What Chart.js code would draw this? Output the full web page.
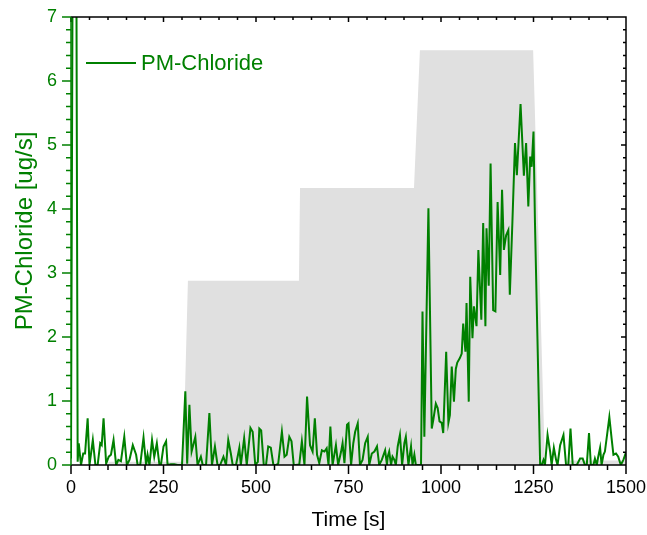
<!DOCTYPE html>
<html><head><meta charset="utf-8">
<script src="https://cdn.jsdelivr.net/npm/chart.js@4/dist/chart.umd.min.js"></script>
<style>html,body{margin:0;padding:0;background:#fff}#wrap{width:647px;height:535px;position:relative}</style>
</head><body><div id="wrap"><canvas id="c" width="647" height="535"></canvas></div>
<script>
const timeS = [0,5,14,18,21,27,33,38,45,50,59,66,72,79,83,88,95,102,108,115,122,128,135,144,151,158,167,176,180,187,196,203,207,212,219,225,232,239,243,250,257,261,270,279,288,300,309,314,320,326,336,342,351,356,365,374,381,389,396,403,412,419,425,432,437,446,455,459,468,475,485,491,498,505,509,514,521,527,533,540,547,554,560,570,577,583,590,596,602,608,617,624,631,638,646,653,659,665,671,678,685,691,696,701,707,716,722,730,734,739,746,750,757,763,768,775,781,788,795,802,806,813,820,827,833,840,849,854,856,860,865,869,874,878,883,889,895,901,905,912,919,923,928,932,941,946,950,955,966,975,979,986,991,996,1002,1006,1014,1020,1024,1029,1035,1040,1044,1051,1056,1060,1066,1069,1075,1079,1085,1089,1096,1101,1109,1114,1120,1123,1129,1134,1141,1147,1153,1160,1165,1170,1176,1182,1186,1193,1200,1205,1215,1224,1230,1236,1241,1245,1250,1254,1268,1272,1277,1281,1288,1295,1299,1305,1311,1315,1322,1331,1338,1344,1350,1356,1367,1376,1383,1389,1394,1400,1405,1412,1416,1421,1425,1430,1434,1439,1443,1455,1461,1466,1473,1479,1486,1493,1500];
const chloride = [0.1,9,9,0.05,0.34,0,0.18,0.18,0.73,0,0.39,0,0,0.34,0.31,0.73,0.02,0.13,0.16,0.39,0,0.08,0.06,0.44,0,0.08,0.31,0.16,0,0,0.43,0,0.16,0,0.39,0.13,0.34,0,0,0.29,0.37,0,0.01,0.01,0,0,1.15,0.02,0.94,0.21,0.44,0,0.13,0,0,0.81,0,0.29,0,0,0.13,0,0.39,0.18,0,0,0.27,0,0.42,0,0.58,0.52,0,0.05,0.57,0.54,0,0,0.29,0.27,0,0,0.02,0.52,0.13,0.16,0.44,0.37,0,0,0.01,0.37,0,1.07,0.31,0.21,0.73,0.16,0.03,0.23,0.21,0.26,0,0.6,0,0.31,0,0.21,0.34,0.03,0.63,0.65,0,0.34,0.52,0.65,0,0.08,0.34,0.44,0,0.18,0.21,0.29,0,0.08,0.23,0,0.13,0.21,0,0.13,0.08,0,0.29,0.47,0,0.34,0.44,0,0.29,0,0.16,0,0,0,2.4,0.44,4.01,0.57,0.7,0.96,0.89,0.68,0.66,0.5,1.77,0.66,0.78,1.54,0.99,1.5,1.6,1.67,1.74,2.21,1.77,2.53,0.99,2.94,1.98,2.48,2.17,3.36,2.27,3.78,2.17,3.7,2.8,4.71,2.42,2.4,4.11,2.97,4.3,3.36,3.59,3.67,2.66,3.8,5.03,4.53,5.64,4.52,5.03,4.04,4.82,4.66,5.21,3.78,0,0,0.08,0,0.47,0.21,0,0.27,0.08,0,0.31,0.47,0,0,0.57,0,0,0.1,0.1,0,0,0.5,0,0,0.1,0,0.13,0.27,0,0.16,0.21,0.75,0.42,0.16,0.18,0.13,0,0.08,0.2];
const profileTime = [0,100,101,303,316,616,619,927,943,1249,1281,1340,1341,1500];
const profileLevel = [0,0,0.05,0.05,2.88,2.88,4.33,4.33,6.48,6.48,0,0,0.07,0.07];
const xTickValues = [0,250,500,750,1000,1250,1500];
const yTickValues = [0,1,2,3,4,5,6,7];
const yTitle = 'PM-Chloride [ug/s]';

const GREEN = '#008000';
const FONT = 'Liberation Sans, Arial, sans-serif';

const greenPts = timeS.map((t,i)=>({x:t,y:chloride[i]}));
const grayPts = profileTime.map((t,i)=>({x:t,y:profileLevel[i]}));

const framePlugin = {
  id:'frame',
  afterDatasetsDraw(chart){
    const {ctx, chartArea:{left,right,top,bottom}, scales:{x,y}} = chart;
    ctx.save();
    ctx.lineWidth = 1.5;
    ctx.strokeStyle = '#000';
    ctx.beginPath();
    for (let v=0; v<=1500; v+=50){
      const px = x.getPixelForValue(v);
      const major = v % 250 === 0;
      ctx.moveTo(px,bottom); ctx.lineTo(px,bottom+(major?9:5));
      ctx.moveTo(px,top); ctx.lineTo(px,top+(major?5:3));
    }
    for (let k=0; k<=35; k++){
      const v = k*0.2; const py = y.getPixelForValue(v);
      const major = k % 5 === 0;
      ctx.moveTo(right,py); ctx.lineTo(right-(major?5:3),py);
    }
    ctx.moveTo(left,top); ctx.lineTo(right,top); ctx.lineTo(right,bottom); ctx.lineTo(left,bottom);
    ctx.stroke();
    ctx.strokeStyle = GREEN;
    ctx.beginPath();
    for (let k=0; k<=35; k++){
      const v = k*0.2; const py = y.getPixelForValue(v);
      const major = k % 5 === 0;
      ctx.moveTo(left,py); ctx.lineTo(left-(major?9:5),py);
    }
    ctx.moveTo(left,top); ctx.lineTo(left,bottom);
    ctx.stroke();
    // legend
    ctx.lineWidth = 2;
    ctx.beginPath(); ctx.moveTo(86,63); ctx.lineTo(136,63); ctx.stroke();
    ctx.fillStyle = GREEN;
    ctx.font = '22px ' + FONT;
    ctx.textBaseline = 'middle';
    ctx.textAlign = 'left';
    ctx.fillText(chart.data.datasets[0].label, 141, 64);
    // y axis title
    ctx.translate(25, 231);
    ctx.rotate(-Math.PI/2);
    ctx.textAlign = 'center';
    ctx.font = '24px ' + FONT;
    ctx.fillText(yTitle, 0, 0);
    ctx.restore();
  }
};

new Chart(document.getElementById('c'), {
  type:'line',
  data:{datasets:[
    {label:'PM-Chloride', data:greenPts, borderColor:GREEN, borderWidth:2, pointRadius:0, fill:false, tension:0},
    {label:'Profile', data:grayPts, borderWidth:0, borderColor:'rgba(0,0,0,0)', backgroundColor:'#e0e0e0', pointRadius:0, fill:'origin', tension:0}
  ]},
  options:{
    responsive:false, animation:false, devicePixelRatio:1,
    layout:{padding:{left:0,right:21,top:17,bottom:0}},
    plugins:{legend:{display:false}, tooltip:{enabled:false}},
    scales:{
      x:{type:'linear', min:0, max:1500,
        afterBuildTicks:s=>{s.ticks = xTickValues.map(v=>({value:v}));},
        afterFit:s=>{s.height=70; s.paddingLeft=0; s.paddingRight=0;},
        grid:{display:false, drawTicks:false}, border:{display:false},
        ticks:{color:'#000', font:{family:FONT,size:18}, padding:12, maxRotation:0, autoSkip:false, callback:v=>String(v)},
        title:{display:true, text:'Time [s]', color:'#000', font:{family:FONT,size:21}, padding:{top:0,bottom:2}}
      },
      y:{type:'linear', min:0, max:7,
        afterBuildTicks:s=>{s.ticks = yTickValues.map(v=>({value:v}));},
        afterFit:s=>{s.width=71; s.paddingTop=0; s.paddingBottom=0;},
        grid:{display:false, drawTicks:false}, border:{display:false},
        ticks:{color:GREEN, font:{family:FONT,size:18}, padding:14, callback:v=>String(v)},
        title:{display:false}
      }
    }
  },
  plugins:[framePlugin]
});
</script>
</body></html>
